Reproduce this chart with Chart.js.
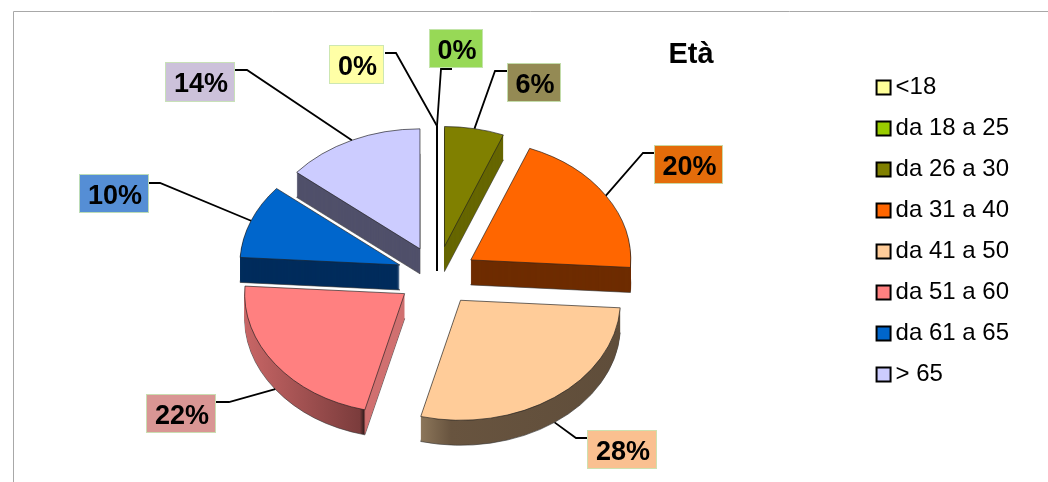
<!DOCTYPE html>
<html lang="it">
<head>
<meta charset="utf-8">
<title>Età</title>
<style>html,body{margin:0;padding:0;background:#fff}canvas{display:block}</style>
<script src="https://cdn.jsdelivr.net/npm/chart.js@4"></script>
</head>
<body>
<canvas id="c" width="1048" height="482"></canvas>
<script>
const chartTitle = 'Età';
const categories = ['<18','da 18 a 25','da 26 a 30','da 31 a 40','da 41 a 50','da 51 a 60','da 61 a 65','> 65'];
const values = [0,0,6,20,28,22,10,14];
const sliceColors = ['#FFFF99','#99CC00','#808000','#FF6600','#FFCC99','#FF8080','#0066CC','#CCCCFF'];
const labelColors = ['#FFFFA6','#97D956','#948A54','#E46C0A','#FAC090','#D99694','#558ED5','#CCC1DA'];
// label boxes: left, top, width, height
const labelBoxes = [[329,45,55,39],[429,29,54,39],[507,63,54,39],[654,145,69,39],[587,430,70,39],[146,394,70,39],[79,174,70,39],[165,62,70,40]];
// leader lines: start at the box, elbow
const leaderStart = [[385,53],[452,69],[507,71],[654,153],[587,438],[216,402],[149,183],[235,70]];
const leaderElbow = [[396,53],[441,69],[495,71],[643,153],[576,438],[229,402],[160,183],[247,70]];
const drawOrder = [2,7,3,6,5,4];
const sideFill = {2:'#666600',3:'#6E2C00',6:'#002C5C',7:'#50506A'};
const sideStops = {
  4:[[0,'#8C765A'],[0.376,'#8C765A'],[0.47,'#68543F'],[1,'#5F4D3A']],
  5:[[0,'#C86666'],[0.36,'#7B3C3C'],[0.372,'#3A2020'],[0.378,'#D07070'],[1,'#D07070']]
};
const CX = 437, CY = 276, SQUASH = 0.75, EXPLODE = 40, RADIUS = 160, DEPTH = 25;

function place(ctx, arc, dy){
  const mid = (arc.startAngle + arc.endAngle) / 2;
  ctx.translate(CX, CY + dy);
  ctx.scale(1, SQUASH);
  ctx.translate(-arc.x + Math.cos(mid) * EXPLODE, -arc.y + Math.sin(mid) * EXPLODE);
}
function paint(ctx, arc, fill, stroke, width){
  const g = Object.create(arc);
  g.options = {backgroundColor:fill, borderColor:stroke, borderWidth:width, borderAlign:'center',
    borderJoinStyle:'round', borderDash:[], borderDashOffset:0, offset:0, spacing:0, circular:true, borderRadius:0};
  arc.draw.call(g, ctx);
}
function project(arc, angle, r, dy){
  const mid = (arc.startAngle + arc.endAngle) / 2;
  return [CX + Math.cos(mid) * EXPLODE + Math.cos(angle) * r,
          CY + dy + SQUASH * (Math.sin(mid) * EXPLODE + Math.sin(angle) * r)];
}
function sidePaint(ctx, arc, i){
  if(!sideStops[i]) return sideFill[i];
  const grad = ctx.createLinearGradient(arc.x - RADIUS, 0, arc.x + RADIUS, 0);
  sideStops[i].forEach(s=>grad.addColorStop(s[0], s[1]));
  return grad;
}

const pie3d = {
  id:'pie3d',
  beforeDatasetsDraw(chart){
    const ctx = chart.ctx, arcs = chart.getDatasetMeta(0).data;
    // zero-width slices appear as a single line
    arcs.forEach((arc,i)=>{
      if(values[i]!==0) return;
      const a = project(arc, arc.startAngle, RADIUS, 0), b = project(arc, arc.startAngle, 0, DEPTH);
      ctx.save(); ctx.strokeStyle='#000'; ctx.lineWidth=2;
      ctx.beginPath(); ctx.moveTo(a[0],a[1]); ctx.lineTo(b[0],b[1]); ctx.stroke(); ctx.restore();
    });
    drawOrder.forEach(i=>{
      const arc = arcs[i];
      for(let d = DEPTH; d >= 1; d--){
        ctx.save(); place(ctx, arc, d);
        paint(ctx, arc, sidePaint(ctx, arc, i), 'rgba(50,50,50,.7)', d === DEPTH ? 1 : 0);
        ctx.restore();
      }
      ctx.save(); place(ctx, arc, 0);
      paint(ctx, arc, sliceColors[i], 'rgba(30,30,30,.75)', 1);
      ctx.restore();
    });
    return false;
  },
  afterDraw(chart){
    const ctx = chart.ctx, arcs = chart.getDatasetMeta(0).data;
    ctx.save();
    // frame
    ctx.strokeStyle='#A8A8A8'; ctx.lineWidth=1;
    ctx.beginPath(); ctx.moveTo(1048,11.5); ctx.lineTo(13.5,11.5); ctx.lineTo(13.5,482); ctx.stroke();
    // title
    ctx.fillStyle='#000'; ctx.font='bold 29px "Liberation Sans"'; ctx.textAlign='center'; ctx.textBaseline='middle';
    ctx.fillText(chartTitle, 691, 55);
    // leaders and labels
    values.forEach((v,i)=>{
      const arc = arcs[i];
      const mid = (arc.startAngle + arc.endAngle) / 2;
      const lower = Math.sin(mid) > 0.3 ? DEPTH : 0;
      const end = project(arc, mid, RADIUS, lower);
      ctx.strokeStyle='#000'; ctx.lineWidth=1.8;
      ctx.beginPath(); ctx.moveTo(leaderStart[i][0],leaderStart[i][1]);
      ctx.lineTo(leaderElbow[i][0],leaderElbow[i][1]); ctx.lineTo(end[0],end[1]); ctx.stroke();
      const b = labelBoxes[i];
      ctx.fillStyle=labelColors[i]; ctx.fillRect(b[0],b[1],b[2],b[3]);
      ctx.strokeStyle='rgba(200,228,180,.9)'; ctx.lineWidth=1;
      ctx.strokeRect(b[0]+.5,b[1]+.5,b[2]-1,b[3]-1);
      ctx.fillStyle='#000'; ctx.font='bold 27px "Liberation Sans"';
      ctx.fillText(v+'%', b[0]+b[2]/2+1, b[1]+b[3]/2+3);
    });
    ctx.restore();
  }
};

new Chart(document.getElementById('c'),{
  type:'pie',
  data:{labels:categories,datasets:[{data:values,backgroundColor:sliceColors,radius:RADIUS}]},
  options:{
    responsive:false,animation:false,events:[],
    layout:{padding:{right:29,bottom:20}},
    plugins:{
      tooltip:{enabled:false},
      title:{display:false},
      legend:{
        display:true,position:'right',
        labels:{
          color:'#000',font:{family:'"Liberation Sans"',size:24},
          usePointStyle:true,boxWidth:0.01,boxHeight:14,padding:17,
          generateLabels(chart){
            return categories.map((t,i)=>({text:t,fillStyle:sliceColors[i],strokeStyle:'#000',lineWidth:2,pointStyle:'rect',hidden:false,index:i,fontColor:'#000'}));
          }
        }
      }
    }
  },
  plugins:[pie3d]
});
</script>
</body>
</html>
